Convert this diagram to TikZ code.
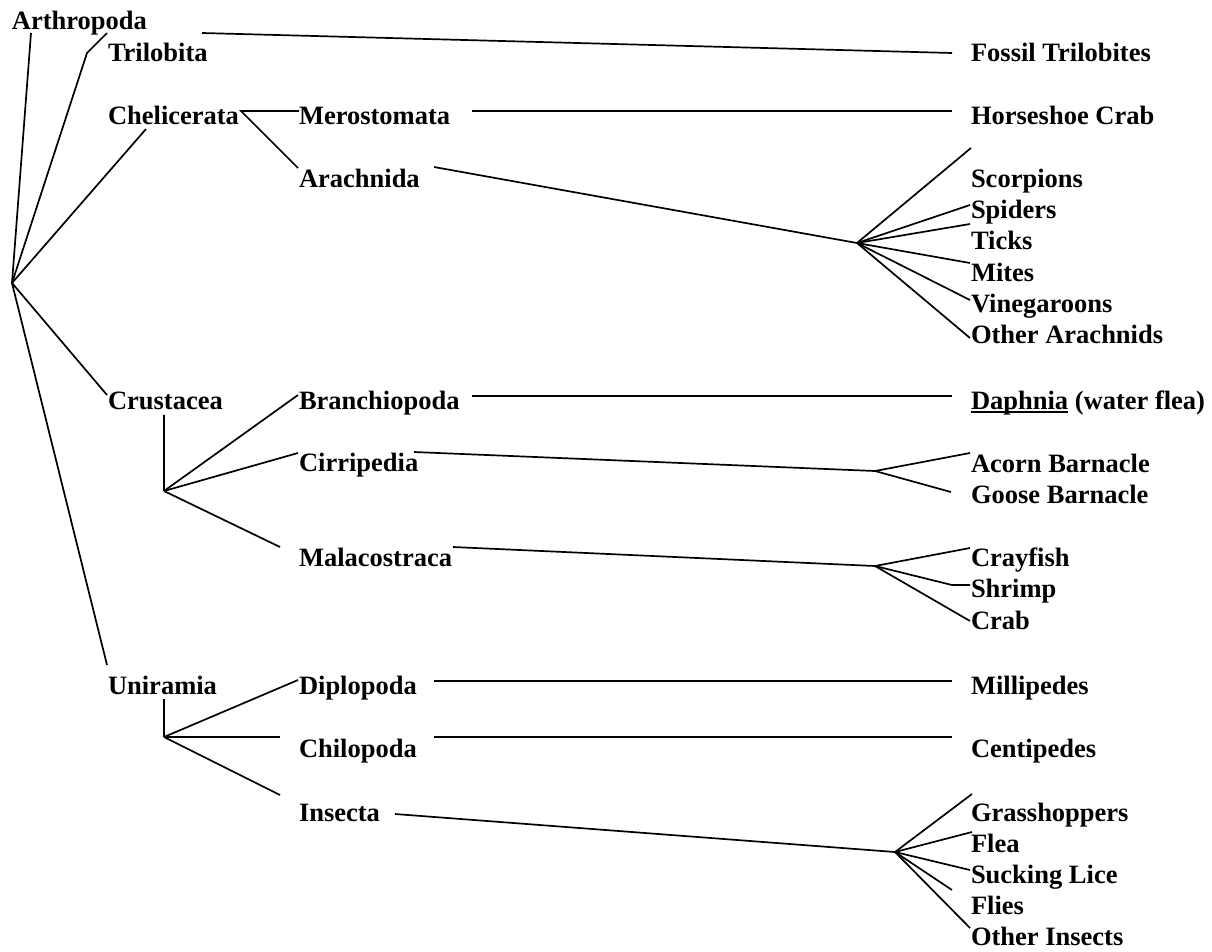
\documentclass[tikz,border=0pt]{standalone}
\usepackage{fontspec}
\setmainfont{Liberation Serif}
\newcommand\taxul[1]{\setbox0\hbox{#1}\rlap{\rule[-3.5pt]{\wd0}{1.8pt}}\box0\relax}
\tikzset{
    taxon/.style={anchor=base west, inner sep=0pt, outer sep=0pt,
        font=\fontsize{26.5}{30}\selectfont\bfseries},
    branch/.style={line width=1.7pt},
}
\begin{document}
\begin{tikzpicture}[x=1pt,y=-1pt]
    \useasboundingbox (0,0) rectangle (1212,951);
    %% phylum, subphyla, classes
    \node[taxon] (arthropoda)   at (12,29)   {Arthropoda};
    \node[taxon] (trilobita)    at (108,61)  {Trilobita};
    \node[taxon] (chelicerata)  at (108,124) {Chelicerata};
    \node[taxon] (merostomata)  at (299,124) {Merostomata};
    \node[taxon] (arachnida)    at (299,187) {Arachnida};
    \node[taxon] (crustacea)    at (108,409) {Crustacea};
    \node[taxon] (branchiopoda) at (299,409) {Branchiopoda};
    \node[taxon] (cirripedia)   at (299,471) {Cirripedia};
    \node[taxon] (malacostraca) at (299,566) {Malacostraca};
    \node[taxon] (uniramia)     at (108,694) {Uniramia};
    \node[taxon] (diplopoda)    at (299,694) {Diplopoda};
    \node[taxon] (chilopoda)    at (299,757) {Chilopoda};
    \node[taxon] (insecta)      at (299,821) {Insecta};
    %% examples
    \node[taxon] (fossil)       at (971,61)  {Fossil Trilobites};
    \node[taxon] (horseshoe)    at (971,124) {Horseshoe Crab};
    \node[taxon] (scorpions)    at (971,187) {Scorpions};
    \node[taxon] (spiders)      at (971,218) {Spiders};
    \node[taxon] (ticks)        at (971,249) {Ticks};
    \node[taxon] (mites)        at (971,281) {Mites};
    \node[taxon] (vinegaroons)  at (971,312) {Vinegaroons};
    \node[taxon] (otherarach)   at (971,343) {Other Arachnids};
    \node[taxon] (daphnia)      at (971,409) {\taxul{Daphnia} (water flea)};
    \node[taxon] (acorn)        at (971,472) {Acorn Barnacle};
    \node[taxon] (goose)        at (971,503) {Goose Barnacle};
    \node[taxon] (crayfish)     at (971,566) {Crayfish};
    \node[taxon] (shrimp)       at (971,597) {Shrimp};
    \node[taxon] (crab)         at (971,629) {Crab};
    \node[taxon] (millipedes)   at (971,694) {Millipedes};
    \node[taxon] (centipedes)   at (971,757) {Centipedes};
    \node[taxon] (grasshoppers) at (971,821) {Grasshoppers};
    \node[taxon] (flea)         at (971,852) {Flea};
    \node[taxon] (lice)         at (971,883) {Sucking Lice};
    \node[taxon] (flies)        at (971,914) {Flies};
    \node[taxon] (otherins)     at (971,945) {Other Insects};
    %% branch points
    \coordinate (root)      at (12,283);
    \coordinate (crusthub)  at (164,491);
    \coordinate (unihub)    at (164,737);
    \coordinate (arachhub)  at (857,243);
    \coordinate (cirrhub)   at (875,471);
    \coordinate (malahub)   at (875,566);
    \coordinate (inshub)    at (895,852);
    %% root fan
    \draw[branch] (root) -- ([shift={(19,4)}]arthropoda.base west);
    \draw[branch] (root) -- ([shift={(-21,-8)}]trilobita.base west)
        -- ([shift={(-1,-28)}]trilobita.base west);
    \foreach \n/\dx/\dy in {chelicerata/38/5, crustacea/-1/-14, uniramia/-1/-29}
        \draw[branch] (root) -- ([shift={(\dx,\dy)}]\n.base west);
    %% Trilobita, Chelicerata
    \draw[branch] ([shift={(94,-28)}]trilobita.base west) -- ([shift={(-19,-8)}]fossil.base west);
    \draw[branch] ([shift={(0,-13)}]merostomata.base west) -- ([shift={(133,-13)}]chelicerata.base west)
        -- ([shift={(-1,-19)}]arachnida.base west);
    \draw[branch] ([shift={(173,-13)}]merostomata.base west) -- ([shift={(-19,-13)}]horseshoe.base west);
    \draw[branch] ([shift={(135,-20)}]arachnida.base west) -- (arachhub);
    \foreach \n/\dx/\dy in {scorpions/0/-39, spiders/-1/-13, ticks/-1/-25,
            mites/-1/-18, vinegaroons/-1/-12, otherarach/-1/-5}
        \draw[branch] (arachhub) -- ([shift={(\dx,\dy)}]\n.base west);
    %% Crustacea
    \draw[branch] ([shift={(56,6)}]crustacea.base west) -- (crusthub);
    \foreach \n/\dx/\dy in {branchiopoda/-1/-14, cirripedia/-1/-18, malacostraca/-19/-19}
        \draw[branch] (crusthub) -- ([shift={(\dx,\dy)}]\n.base west);
    \draw[branch] ([shift={(173,-13)}]branchiopoda.base west) -- ([shift={(-19,-13)}]daphnia.base west);
    \draw[branch] ([shift={(115,-19)}]cirripedia.base west) -- (cirrhub);
    \draw[branch] (cirrhub) -- ([shift={(-1,-19)}]acorn.base west);
    \draw[branch] (cirrhub) -- ([shift={(-20,-11)}]goose.base west);
    \draw[branch] ([shift={(154,-19)}]malacostraca.base west) -- (malahub);
    \draw[branch] (malahub) -- ([shift={(-1,-18)}]crayfish.base west);
    \draw[branch] (malahub) -- ([shift={(-19,-12)}]shrimp.base west)
        -- ([shift={(-1,-12)}]shrimp.base west);
    \draw[branch] (malahub) -- ([shift={(-1,-8)}]crab.base west);
    %% Uniramia
    \draw[branch] ([shift={(56,5)}]uniramia.base west) -- (unihub);
    \foreach \n/\dx/\dy in {diplopoda/-1/-14, chilopoda/-19/-20, insecta/-19/-26}
        \draw[branch] (unihub) -- ([shift={(\dx,\dy)}]\n.base west);
    \draw[branch] ([shift={(135,-13)}]diplopoda.base west) -- ([shift={(-19,-13)}]millipedes.base west);
    \draw[branch] ([shift={(135,-20)}]chilopoda.base west) -- ([shift={(-19,-20)}]centipedes.base west);
    \draw[branch] ([shift={(96,-7)}]insecta.base west) -- (inshub);
    \foreach \n/\dx/\dy in {grasshoppers/1/-27, flea/1/-20, lice/-1/-13,
            flies/-19/-24, otherins/-1/-17}
        \draw[branch] (inshub) -- ([shift={(\dx,\dy)}]\n.base west);
\end{tikzpicture}
\end{document}
